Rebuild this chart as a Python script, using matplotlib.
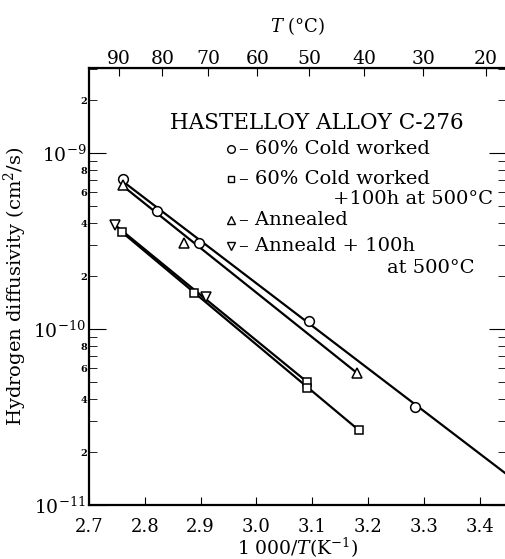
import numpy as np
import matplotlib
matplotlib.use('Agg')
import matplotlib.pyplot as plt
from matplotlib.ticker import FixedLocator, FuncFormatter

plt.rcParams['font.family'] = ['DejaVu Serif']
plt.rcParams['mathtext.fontset'] = 'dejavuserif'

# data: x = 1000/T (1/K), y = diffusivity (cm2/s)
cw_x = [2.761, 2.822, 2.898, 3.095, 3.284]
cw_y = [7.1e-10, 4.7e-10, 3.1e-10, 1.11e-10, 3.6e-11]
cw_line_x = [2.761, 3.46]
cw_line_y = [6.9e-10, 1.4e-11]

cwh_x = [2.759, 2.889, 3.091, 3.091, 3.183]
cwh_y = [3.56e-10, 1.60e-10, 5.0e-11, 4.62e-11, 2.67e-11]
cwh_line_x = [2.759, 3.183]
cwh_line_y = [3.56e-10, 2.67e-11]

an_x = [2.761, 2.871, 3.181]
an_y = [6.6e-10, 3.1e-10, 5.6e-11]
an_line_x = [2.761, 3.181]
an_line_y = [6.5e-10, 5.6e-11]

anh_x = [2.747, 2.909]
anh_y = [3.9e-10, 1.52e-10]
anh_line_x = [2.747, 3.091]
anh_line_y = [3.9e-10, 5.0e-11]

x_ticks = [2.7, 2.8, 2.9, 3.0, 3.1, 3.2, 3.3, 3.4]
t_ticks = [90, 80, 70, 60, 50, 40, 30, 20]
y_major = [1e-11, 1e-10, 1e-9]
y_minor = [m * d for d in (1e-11, 1e-10, 1e-9) for m in range(2, 10) if m * d < 3.04e-9]

fig = plt.figure(figsize=(5.05, 5.59), dpi=100)
ax = fig.add_axes([0.176, 0.0966, 0.826, 0.7814])

lw = 1.6
ax.plot(cw_line_x, cw_line_y, color='black', lw=lw)
ax.plot(cwh_line_x, cwh_line_y, color='black', lw=lw)
ax.plot(an_line_x, an_line_y, color='black', lw=lw)
ax.plot(anh_line_x, anh_line_y, color='black', lw=lw)

mk = dict(linestyle='none', mfc='white', mec='black', mew=1.1, ms=7, zorder=3)
ax.plot(cw_x, cw_y, marker='o', **mk)
ax.plot(cwh_x, cwh_y, marker='s', **dict(mk, ms=6))
ax.plot(an_x, an_y, marker='^', **mk)
ax.plot(anh_x, anh_y, marker='v', **mk)

ax.set_yscale('log')
ax.set_xlim(2.7, 3.447)
ax.set_ylim(1e-11, 3.04e-9)

ax.set_xticks(x_ticks)
ax.set_xticklabels([f'{v:.1f}' for v in x_ticks])
ax.yaxis.set_major_locator(FixedLocator(y_major))
ax.yaxis.set_minor_locator(FixedLocator(y_minor))
ax.yaxis.set_major_formatter(FuncFormatter(lambda v, p: r'$10^{%d}$' % round(np.log10(v))))


def minor_fmt(v, p):
    d = int(round(v / 10 ** np.floor(np.log10(v) + 1e-9)))
    return str(d) if d in (2, 4, 6, 8) else ''


ax.yaxis.set_minor_formatter(FuncFormatter(minor_fmt))
ax.tick_params(axis='y', which='minor', labelsize=7, length=6, direction='in',
               right=True, pad=1)
for lab in ax.yaxis.get_minorticklabels():
    lab.set_fontweight('bold')
ax.tick_params(axis='y', which='major', labelsize=13.5, length=12, direction='in',
               right=True, pad=2)
ax.tick_params(axis='x', which='major', labelsize=13, length=6, direction='in',
               top=False, pad=9)
for s in ax.spines.values():
    s.set_linewidth(1.6)

top = ax.secondary_xaxis('top', functions=(lambda x: 1000.0 / x - 273.15,
                                           lambda t: 1000.0 / (t + 273.15)))
top.set_xticks(t_ticks)
top.set_xticklabels([str(t) for t in t_ticks])
top.tick_params(labelsize=13.5, length=6, direction='in', pad=0)
top.set_xlabel(r'$T$ (°C)', fontsize=13, labelpad=13)

ax.set_xlabel(r'1 000/$T$(K$^{-1}$)', fontsize=13.5, labelpad=0)
ax.set_ylabel('Hydrogen diffusivity (cm$^2$/s)', fontsize=14, labelpad=3)

# legend block inside the axes
ax.text(0.195, 0.875, 'HASTELLOY ALLOY C-276', transform=ax.transAxes,
        fontsize=15.5, va='center', ha='left')
leg_mk = dict(transform=ax.transAxes, linestyle='none', mfc='white', mec='black',
              mew=1.0, ms=5.5, clip_on=False)
ax.plot([0.341], [0.815], marker='o', **leg_mk)
ax.plot([0.341], [0.747], marker='s', **dict(leg_mk, ms=4.5))
ax.plot([0.341], [0.653], marker='^', **leg_mk)
ax.plot([0.341], [0.594], marker='v', **leg_mk)
fs = 14
ax.text(0.36, 0.815, '– 60% Cold worked', transform=ax.transAxes, fontsize=fs, va='center')
ax.text(0.36, 0.747, '– 60% Cold worked', transform=ax.transAxes, fontsize=fs, va='center')
ax.text(0.97, 0.700, '+100h at 500°C', transform=ax.transAxes, fontsize=fs,
        va='center', ha='right')
ax.text(0.36, 0.653, '– Annealed', transform=ax.transAxes, fontsize=fs, va='center')
ax.text(0.36, 0.594, '– Anneald + 100h', transform=ax.transAxes, fontsize=fs, va='center')
ax.text(0.925, 0.543, 'at 500°C', transform=ax.transAxes, fontsize=fs,
        va='center', ha='right')

fig.savefig('out.png', dpi=100)
